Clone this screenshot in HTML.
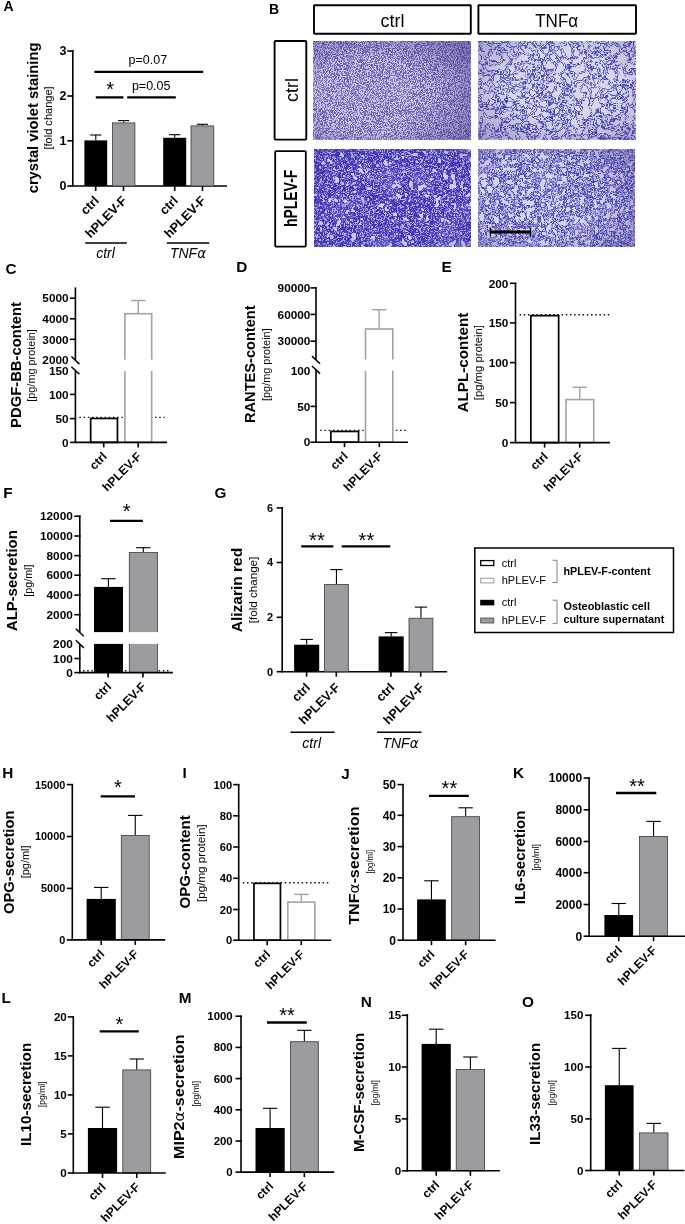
<!DOCTYPE html>
<html><head><meta charset="utf-8"><title>Figure</title>
<style>html,body{margin:0;padding:0;background:#fff}svg{display:block;will-change:transform}</style></head>
<body>
<svg width="685" height="1224" viewBox="0 0 685 1224" font-family='"Liberation Sans", Arial, sans-serif'>
<rect width="685" height="1224" fill="#fff"/>
<defs><filter id="fTL" x="0" y="0" width="100%" height="100%" color-interpolation-filters="sRGB">
 <feTurbulence type="fractalNoise" baseFrequency="1.15" numOctaves="1" seed="3"/>
 <feColorMatrix type="matrix" values="0 0 0 0 0 0 0 0 0 0 0 0 0 0 0 1 0 0 0 0"/>
 <feComponentTransfer result="a"><feFuncA type="table" tableValues="0 0 0 0 0 0 0 0 0 0 0 0 0 0 0 0 0 0 0 0.195 0.52 0.845 1 1 1 1 1 1 1 1 1 1 0.78 0.455 0.13 0 0 0 0 0 0"/></feComponentTransfer>
 <feTurbulence type="fractalNoise" baseFrequency="0.015" numOctaves="2" seed="14"/>
 <feColorMatrix type="matrix" values="0 0 0 0 0 0 0 0 0 0 0 0 0 0 0 0.8 0 0 0 0.6" result="lo"/>
 <feComposite in="a" in2="lo" operator="in" result="a"/>
 <feFlood flood-color="#6b60b4"/>
 <feComposite in2="a" operator="in" result="ink"/>
 <feFlood flood-color="#cac9e1" result="bg"/>
 <feMerge><feMergeNode in="bg"/><feMergeNode in="ink"/></feMerge>
 <feGaussianBlur stdDeviation="0.6"/>
</filter>
<filter id="fTR" x="0" y="0" width="100%" height="100%" color-interpolation-filters="sRGB">
 <feTurbulence type="fractalNoise" baseFrequency="0.11" numOctaves="3" seed="8"/>
 <feColorMatrix type="matrix" values="0 0 0 0 0 0 0 0 0 0 0 0 0 0 0 1 0 0 0 0"/>
 <feComponentTransfer result="a"><feFuncA type="table" tableValues="0 0 0 0 0 0 0 0 0 0 0 0 0 0 0 0 1 1 0.55 0 0 0 1 1 0.55 0 0 0 0 0 0 0 0 0 0 0 0 0 0 0 0"/></feComponentTransfer>
 <feTurbulence type="fractalNoise" baseFrequency="0.03" numOctaves="2" seed="5"/>
 <feColorMatrix type="matrix" values="0 0 0 0 0 0 0 0 0 0 0 0 0 0 0 0.6 0 0 0 0.7" result="lo"/>
 <feComposite in="a" in2="lo" operator="in" result="a"/>
 <feFlood flood-color="#4a44b0"/>
 <feComposite in2="a" operator="in" result="ink"/>
 <feFlood flood-color="#d6d8ea" result="bg"/>
 <feMerge><feMergeNode in="bg"/><feMergeNode in="ink"/></feMerge>
 <feGaussianBlur stdDeviation="0.4"/>
</filter>
<filter id="fBL" x="0" y="0" width="100%" height="100%" color-interpolation-filters="sRGB">
 <feTurbulence type="fractalNoise" baseFrequency="0.12" numOctaves="3" seed="21"/>
 <feColorMatrix type="matrix" values="0 0 0 0 0 0 0 0 0 0 0 0 0 0 0 1 0 0 0 0"/>
 <feComponentTransfer result="a"><feFuncA type="table" tableValues="0 0 0 0 0 0 0 0 0 0 0 0 0.2 1 1 1 1.0 0 0.433 1 1 1 0.433 0 1.0 1 1 1 0.2 0 0 0 0 0 0 0 0 0 0 0 0"/></feComponentTransfer>
 <feTurbulence type="fractalNoise" baseFrequency="0.03" numOctaves="2" seed="9"/>
 <feColorMatrix type="matrix" values="0 0 0 0 0 0 0 0 0 0 0 0 0 0 0 0.5 0 0 0 0.75" result="lo"/>
 <feComposite in="a" in2="lo" operator="in" result="a"/>
 <feFlood flood-color="#4535bb"/>
 <feComposite in2="a" operator="in" result="ink"/>
 <feFlood flood-color="#d0d1ee" result="bg"/>
 <feMerge><feMergeNode in="bg"/><feMergeNode in="ink"/></feMerge>
 <feGaussianBlur stdDeviation="0.4"/>
</filter>
<filter id="fBR" x="0" y="0" width="100%" height="100%" color-interpolation-filters="sRGB">
 <feTurbulence type="fractalNoise" baseFrequency="0.15" numOctaves="3" seed="33"/>
 <feColorMatrix type="matrix" values="0 0 0 0 0 0 0 0 0 0 0 0 0 0 0 1 0 0 0 0"/>
 <feComponentTransfer result="a"><feFuncA type="table" tableValues="0 0 0 0 0 0 0 0 0 0 0 0 0 0 0 1 1 1 0.0 0.333 1 0.333 0.0 1 1 1 0 0 0 0 0 0 0 0 0 0 0 0 0 0 0"/></feComponentTransfer>
 <feTurbulence type="fractalNoise" baseFrequency="0.03" numOctaves="2" seed="17"/>
 <feColorMatrix type="matrix" values="0 0 0 0 0 0 0 0 0 0 0 0 0 0 0 0.6 0 0 0 0.7" result="lo"/>
 <feComposite in="a" in2="lo" operator="in" result="a"/>
 <feFlood flood-color="#5249b8"/>
 <feComposite in2="a" operator="in" result="ink"/>
 <feFlood flood-color="#d3d5ea" result="bg"/>
 <feMerge><feMergeNode in="bg"/><feMergeNode in="ink"/></feMerge>
 <feGaussianBlur stdDeviation="0.4"/>
</filter>
<radialGradient id="vig0" cx="36%" cy="55%" r="80%">
 <stop offset="45%" stop-color="#3a2f86" stop-opacity="0"/>
 <stop offset="100%" stop-color="#3a2f86" stop-opacity="0.5"/>
</radialGradient><radialGradient id="vig1" cx="55%" cy="45%" r="80%">
 <stop offset="45%" stop-color="#3a2f86" stop-opacity="0"/>
 <stop offset="100%" stop-color="#3a2f86" stop-opacity="0.4"/>
</radialGradient><radialGradient id="vig2" cx="50%" cy="50%" r="85%">
 <stop offset="45%" stop-color="#3a2f86" stop-opacity="0"/>
 <stop offset="100%" stop-color="#3a2f86" stop-opacity="0.3"/>
</radialGradient><radialGradient id="vig3" cx="38%" cy="50%" r="85%">
 <stop offset="45%" stop-color="#3a2f86" stop-opacity="0"/>
 <stop offset="100%" stop-color="#3a2f86" stop-opacity="0.42"/>
</radialGradient></defs>
<text x="3.6" y="11.4" font-size="14" font-weight="bold" >A</text>
<text x="38.2" y="193.3" font-size="15" font-weight="bold" transform="rotate(-90 38.2 193.3)" textLength="150.7" lengthAdjust="spacingAndGlyphs" >crystal violet staining</text>
<text x="52.2" y="149.5" font-size="11" transform="rotate(-90 52.2 149.5)" textLength="63.1" lengthAdjust="spacingAndGlyphs" >[fold change]</text>
<line x1="72.8" y1="50.3" x2="72.8" y2="186" stroke="#000" stroke-width="1.6" />
<line x1="67.3" y1="51" x2="73.6" y2="51" stroke="#000" stroke-width="1.6" />
<text x="66.5" y="55.48" font-size="12.5" font-weight="bold" text-anchor="end" >3</text>
<line x1="67.3" y1="96" x2="73.6" y2="96" stroke="#000" stroke-width="1.6" />
<text x="66.5" y="100.47" font-size="12.5" font-weight="bold" text-anchor="end" >2</text>
<line x1="67.3" y1="140.8" x2="73.6" y2="140.8" stroke="#000" stroke-width="1.6" />
<text x="66.5" y="145.28" font-size="12.5" font-weight="bold" text-anchor="end" >1</text>
<line x1="67.3" y1="186" x2="73.6" y2="186" stroke="#000" stroke-width="1.6" />
<text x="66.5" y="190.47" font-size="12.5" font-weight="bold" text-anchor="end" >0</text>
<line x1="72" y1="186" x2="227" y2="186" stroke="#000" stroke-width="1.6" />
<line x1="95.7" y1="186" x2="95.7" y2="191" stroke="#000" stroke-width="1.6" />
<line x1="123.5" y1="186" x2="123.5" y2="191" stroke="#000" stroke-width="1.6" />
<line x1="174.7" y1="186" x2="174.7" y2="191" stroke="#000" stroke-width="1.6" />
<line x1="202.5" y1="186" x2="202.5" y2="191" stroke="#000" stroke-width="1.6" />
<rect x="84.4" y="140.4" width="22.8" height="45.6" fill="#000" stroke="none" stroke-width="1.3" />
<line x1="95.8" y1="140.4" x2="95.8" y2="135" stroke="#000" stroke-width="1.1" />
<line x1="90.2" y1="135" x2="101.4" y2="135" stroke="#000" stroke-width="1.1" />
<rect x="112.4" y="122.9" width="22.5" height="63.1" fill="#9c9ca0" stroke="#3a3a3a" stroke-width="0.8" />
<line x1="123.65" y1="122.5" x2="123.65" y2="120.6" stroke="#000" stroke-width="1.1" />
<line x1="118.05" y1="120.6" x2="129.25" y2="120.6" stroke="#000" stroke-width="1.1" />
<rect x="163.2" y="137.8" width="23" height="48.2" fill="#000" stroke="none" stroke-width="1.3" />
<line x1="174.7" y1="137.8" x2="174.7" y2="134.7" stroke="#000" stroke-width="1.1" />
<line x1="169.1" y1="134.7" x2="180.3" y2="134.7" stroke="#000" stroke-width="1.1" />
<rect x="191" y="125.9" width="22.8" height="60.1" fill="#9c9ca0" stroke="#3a3a3a" stroke-width="0.8" />
<line x1="202.4" y1="125.5" x2="202.4" y2="124.3" stroke="#000" stroke-width="1.1" />
<line x1="196.8" y1="124.3" x2="208" y2="124.3" stroke="#000" stroke-width="1.1" />
<line x1="94.4" y1="71.9" x2="203.2" y2="71.9" stroke="#000" stroke-width="2.3" />
<line x1="95.8" y1="97.4" x2="123.4" y2="97.4" stroke="#000" stroke-width="2.3" />
<line x1="127.2" y1="97.4" x2="175.8" y2="97.4" stroke="#000" stroke-width="2.3" />
<text x="147.9" y="64.3" font-size="12.5" text-anchor="middle" >p=0.07</text>
<text x="151.2" y="89.7" font-size="12.5" text-anchor="middle" >p=0.05</text>
<text x="110.1" y="95.5" font-size="20" text-anchor="middle" >*</text>
<text x="99.8" y="201.5" font-size="12.8" font-weight="bold" text-anchor="end" transform="rotate(-45 99.8 201.5)" >ctrl</text>
<text x="127.6" y="201.5" font-size="12.8" font-weight="bold" text-anchor="end" transform="rotate(-45 127.6 201.5)" >hPLEV-F</text>
<text x="178.8" y="201.5" font-size="12.8" font-weight="bold" text-anchor="end" transform="rotate(-45 178.8 201.5)" >ctrl</text>
<text x="206.6" y="201.5" font-size="12.8" font-weight="bold" text-anchor="end" transform="rotate(-45 206.6 201.5)" >hPLEV-F</text>
<line x1="85.2" y1="242.9" x2="126.8" y2="242.9" stroke="#000" stroke-width="1.5" />
<line x1="166.8" y1="242.9" x2="209.3" y2="242.9" stroke="#000" stroke-width="1.5" />
<text x="105.5" y="258.4" font-size="14" font-style="italic" text-anchor="middle" >ctrl</text>
<text x="188" y="258.4" font-size="14" font-style="italic" text-anchor="middle" >TNF<tspan font-family="DejaVu Sans, sans-serif" font-size="13.5">α</tspan></text>
<text x="269" y="13.6" font-size="14" font-weight="bold" >B</text>
<rect x="314" y="5.2" width="156.8" height="28.6" fill="#fff" stroke="#000" stroke-width="1.9" rx="0.5"/>
<rect x="478.4" y="5.2" width="157.6" height="28.6" fill="#fff" stroke="#000" stroke-width="1.9" rx="0.5"/>
<text x="380.5" y="27.3" font-size="19" textLength="24" lengthAdjust="spacingAndGlyphs" >ctrl</text>
<text x="535.2" y="27.3" font-size="18.5" textLength="43" lengthAdjust="spacingAndGlyphs" >TNFα</text>
<rect x="274.6" y="41" width="31.7" height="98.6" fill="#fff" stroke="#000" stroke-width="1.9" rx="1"/>
<rect x="275.2" y="151.1" width="30.6" height="95.5" fill="#fff" stroke="#000" stroke-width="1.8" rx="1"/>
<text x="298" y="90" font-size="18" text-anchor="middle" transform="rotate(-90 298 90)" >ctrl</text>
<text x="296.8" y="227" font-size="17.5" font-weight="bold" transform="rotate(-90 296.8 227)" textLength="57.3" lengthAdjust="spacingAndGlyphs" >hPLEV-F</text>
<rect x="313.8" y="41" width="157" height="98.6" fill="#888" stroke="none" stroke-width="0" filter="url(#fTL)"/>
<rect x="313.8" y="41" width="157" height="98.6" fill="url(#vig0)" stroke="none" stroke-width="0" />
<rect x="478.2" y="41" width="157.1" height="98.6" fill="#888" stroke="none" stroke-width="0" filter="url(#fTR)"/>
<rect x="478.2" y="41" width="157.1" height="98.6" fill="url(#vig1)" stroke="none" stroke-width="0" />
<rect x="314" y="149" width="156.5" height="98" fill="#888" stroke="none" stroke-width="0" filter="url(#fBL)"/>
<rect x="314" y="149" width="156.5" height="98" fill="url(#vig2)" stroke="none" stroke-width="0" />
<rect x="478" y="149" width="157" height="98" fill="#888" stroke="none" stroke-width="0" filter="url(#fBR)"/>
<rect x="478" y="149" width="157" height="98" fill="url(#vig3)" stroke="none" stroke-width="0" />
<line x1="490" y1="232" x2="531" y2="232" stroke="#000" stroke-width="3" />
<line x1="490.4" y1="227.5" x2="490.4" y2="236.7" stroke="#000" stroke-width="1.2" />
<line x1="530.6" y1="227.5" x2="530.6" y2="236.7" stroke="#000" stroke-width="1.2" />
<text x="5.4" y="273.9" font-size="15.3" font-weight="bold" >C</text>
<text x="20.9" y="427.9" font-size="15" font-weight="bold" transform="rotate(-90 20.9 427.9)" textLength="125.8" lengthAdjust="spacingAndGlyphs" >PDGF-BB-content</text>
<text x="34.8" y="401.8" font-size="11" transform="rotate(-90 34.8 401.8)" textLength="72.7" lengthAdjust="spacingAndGlyphs" >[pg/mg protein]</text>
<line x1="79.4" y1="417.4" x2="164.5" y2="417.4" stroke="#111" stroke-width="1.4" stroke-dasharray="1.5 2.7"/>
<rect x="90.65" y="418.45" width="26.8" height="23.95" fill="#fff" stroke="#000" stroke-width="1.7" />
<rect x="124.9" y="313.7" width="26.8" height="128.7" fill="#fff" stroke="#a2a2a5" stroke-width="1.6" />
<rect x="119.5" y="359.7" width="40.5" height="11.4" fill="#fff" stroke="none" stroke-width="1.3" />
<line x1="138.3" y1="313.6" x2="138.3" y2="300.5" stroke="#a2a2a5" stroke-width="1.4" />
<line x1="131.1" y1="300.5" x2="145.5" y2="300.5" stroke="#a2a2a5" stroke-width="1.4" />
<line x1="75.4" y1="287.4" x2="75.4" y2="360.2" stroke="#000" stroke-width="1.6" />
<line x1="69.9" y1="298.2" x2="76.2" y2="298.2" stroke="#000" stroke-width="1.6" />
<text x="68.6" y="302.42" font-size="11.8" font-weight="bold" text-anchor="end" >5000</text>
<line x1="69.9" y1="318.8" x2="76.2" y2="318.8" stroke="#000" stroke-width="1.6" />
<text x="68.6" y="323.02" font-size="11.8" font-weight="bold" text-anchor="end" >4000</text>
<line x1="69.9" y1="339.3" x2="76.2" y2="339.3" stroke="#000" stroke-width="1.6" />
<text x="68.6" y="343.52" font-size="11.8" font-weight="bold" text-anchor="end" >3000</text>
<text x="68.6" y="363.72" font-size="11.8" font-weight="bold" text-anchor="end" >2000</text>
<line x1="75.4" y1="370.8" x2="75.4" y2="442.4" stroke="#000" stroke-width="1.6" />
<text x="68.6" y="375.42" font-size="11.8" font-weight="bold" text-anchor="end" >150</text>
<line x1="69.9" y1="394.4" x2="76.2" y2="394.4" stroke="#000" stroke-width="1.6" />
<text x="68.6" y="398.62" font-size="11.8" font-weight="bold" text-anchor="end" >100</text>
<line x1="69.9" y1="418.6" x2="76.2" y2="418.6" stroke="#000" stroke-width="1.6" />
<text x="68.6" y="422.82" font-size="11.8" font-weight="bold" text-anchor="end" >50</text>
<line x1="69.9" y1="442.4" x2="76.2" y2="442.4" stroke="#000" stroke-width="1.6" />
<text x="68.6" y="446.62" font-size="11.8" font-weight="bold" text-anchor="end" >0</text>
<line x1="71.4" y1="356.5" x2="79.4" y2="364.1" stroke="#000" stroke-width="1.5" />
<line x1="71.4" y1="366.7" x2="79.4" y2="374.3" stroke="#000" stroke-width="1.5" />
<line x1="74.6" y1="442.4" x2="167.1" y2="442.4" stroke="#000" stroke-width="1.6" />
<line x1="103.7" y1="442.4" x2="103.7" y2="447.4" stroke="#000" stroke-width="1.6" />
<line x1="138.2" y1="442.4" x2="138.2" y2="447.4" stroke="#000" stroke-width="1.6" />
<text x="107.7" y="457.2" font-size="12" font-weight="bold" text-anchor="end" transform="rotate(-45 107.7 457.2)" >ctrl</text>
<text x="142.2" y="457.2" font-size="12" font-weight="bold" text-anchor="end" transform="rotate(-45 142.2 457.2)" >hPLEV-F</text>
<text x="236.2" y="271.6" font-size="15.3" font-weight="bold" >D</text>
<text x="255.3" y="423" font-size="15" font-weight="bold" transform="rotate(-90 255.3 423)" textLength="117.6" lengthAdjust="spacingAndGlyphs" >RANTES-content</text>
<text x="269.7" y="401" font-size="11" transform="rotate(-90 269.7 401)" textLength="72.7" lengthAdjust="spacingAndGlyphs" >[pg/mg protein]</text>
<line x1="320.2" y1="430.4" x2="405.7" y2="430.4" stroke="#111" stroke-width="1.4" stroke-dasharray="1.5 2.7"/>
<rect x="330.85" y="431.45" width="27.7" height="10.75" fill="#fff" stroke="#000" stroke-width="1.7" />
<rect x="365.5" y="329" width="27.3" height="113.2" fill="#fff" stroke="#a2a2a5" stroke-width="1.6" />
<rect x="360.5" y="359.5" width="39.5" height="11.1" fill="#fff" stroke="none" stroke-width="1.3" />
<line x1="379.1" y1="328.9" x2="379.1" y2="309.7" stroke="#a2a2a5" stroke-width="1.4" />
<line x1="371.9" y1="309.7" x2="386.3" y2="309.7" stroke="#a2a2a5" stroke-width="1.4" />
<line x1="316" y1="287.4" x2="316" y2="359.8" stroke="#000" stroke-width="1.6" />
<line x1="310.5" y1="287.9" x2="316.8" y2="287.9" stroke="#000" stroke-width="1.6" />
<text x="310.4" y="292.12" font-size="11.8" font-weight="bold" text-anchor="end" >90000</text>
<line x1="310.5" y1="314.4" x2="316.8" y2="314.4" stroke="#000" stroke-width="1.6" />
<text x="310.4" y="318.62" font-size="11.8" font-weight="bold" text-anchor="end" >60000</text>
<line x1="310.5" y1="341.2" x2="316.8" y2="341.2" stroke="#000" stroke-width="1.6" />
<text x="310.4" y="345.42" font-size="11.8" font-weight="bold" text-anchor="end" >30000</text>
<line x1="316" y1="369.8" x2="316" y2="442.2" stroke="#000" stroke-width="1.6" />
<text x="310.4" y="374.52" font-size="11.8" font-weight="bold" text-anchor="end" >100</text>
<line x1="310.5" y1="406.4" x2="316.8" y2="406.4" stroke="#000" stroke-width="1.6" />
<text x="310.4" y="410.62" font-size="11.8" font-weight="bold" text-anchor="end" >50</text>
<line x1="310.5" y1="442.2" x2="316.8" y2="442.2" stroke="#000" stroke-width="1.6" />
<text x="310.4" y="446.42" font-size="11.8" font-weight="bold" text-anchor="end" >0</text>
<line x1="312" y1="356.1" x2="320" y2="363.7" stroke="#000" stroke-width="1.5" />
<line x1="312" y1="366" x2="320" y2="373.6" stroke="#000" stroke-width="1.5" />
<line x1="315.2" y1="442.2" x2="408" y2="442.2" stroke="#000" stroke-width="1.6" />
<line x1="344.5" y1="442.2" x2="344.5" y2="447.2" stroke="#000" stroke-width="1.6" />
<line x1="379.3" y1="442.2" x2="379.3" y2="447.2" stroke="#000" stroke-width="1.6" />
<text x="348.5" y="457" font-size="12" font-weight="bold" text-anchor="end" transform="rotate(-45 348.5 457)" >ctrl</text>
<text x="383.3" y="457" font-size="12" font-weight="bold" text-anchor="end" transform="rotate(-45 383.3 457)" >hPLEV-F</text>
<text x="441.4" y="271.6" font-size="15.3" font-weight="bold" >E</text>
<text x="467.8" y="412.4" font-size="15" font-weight="bold" transform="rotate(-90 467.8 412.4)" textLength="99.7" lengthAdjust="spacingAndGlyphs" >ALPL-content</text>
<text x="482.2" y="400.2" font-size="11" transform="rotate(-90 482.2 400.2)" textLength="75.2" lengthAdjust="spacingAndGlyphs" >[pg/mg protein]</text>
<line x1="519.6" y1="314.8" x2="609.6" y2="314.8" stroke="#111" stroke-width="1.4" stroke-dasharray="1.5 2.7"/>
<rect x="530.85" y="315.65" width="27.8" height="126.95" fill="#fff" stroke="#000" stroke-width="1.7" />
<rect x="566" y="399.6" width="27.7" height="43" fill="#fff" stroke="#a2a2a5" stroke-width="1.6" />
<line x1="579.8" y1="399.5" x2="579.8" y2="387.3" stroke="#a2a2a5" stroke-width="1.4" />
<line x1="572.6" y1="387.3" x2="587" y2="387.3" stroke="#a2a2a5" stroke-width="1.4" />
<line x1="515.5" y1="282.8" x2="515.5" y2="442.6" stroke="#000" stroke-width="1.6" />
<line x1="510" y1="283.3" x2="516.3" y2="283.3" stroke="#000" stroke-width="1.6" />
<text x="508.4" y="287.52" font-size="11.8" font-weight="bold" text-anchor="end" >200</text>
<line x1="510" y1="322.9" x2="516.3" y2="322.9" stroke="#000" stroke-width="1.6" />
<text x="508.4" y="327.12" font-size="11.8" font-weight="bold" text-anchor="end" >150</text>
<line x1="510" y1="362.6" x2="516.3" y2="362.6" stroke="#000" stroke-width="1.6" />
<text x="508.4" y="366.82" font-size="11.8" font-weight="bold" text-anchor="end" >100</text>
<line x1="510" y1="402.6" x2="516.3" y2="402.6" stroke="#000" stroke-width="1.6" />
<text x="508.4" y="406.82" font-size="11.8" font-weight="bold" text-anchor="end" >50</text>
<line x1="510" y1="442.6" x2="516.3" y2="442.6" stroke="#000" stroke-width="1.6" />
<text x="508.4" y="446.82" font-size="11.8" font-weight="bold" text-anchor="end" >0</text>
<line x1="514.7" y1="442.6" x2="609.9" y2="442.6" stroke="#000" stroke-width="1.6" />
<line x1="544.6" y1="442.6" x2="544.6" y2="447.6" stroke="#000" stroke-width="1.6" />
<line x1="579.7" y1="442.6" x2="579.7" y2="447.6" stroke="#000" stroke-width="1.6" />
<text x="548.6" y="457.4" font-size="12" font-weight="bold" text-anchor="end" transform="rotate(-45 548.6 457.4)" >ctrl</text>
<text x="583.7" y="457.4" font-size="12" font-weight="bold" text-anchor="end" transform="rotate(-45 583.7 457.4)" >hPLEV-F</text>
<text x="3.2" y="498.3" font-size="15.3" font-weight="bold" >F</text>
<text x="16.8" y="631.1" font-size="15" font-weight="bold" transform="rotate(-90 16.8 631.1)" textLength="100.9" lengthAdjust="spacingAndGlyphs" >ALP-secretion</text>
<text x="32.4" y="596.7" font-size="11" transform="rotate(-90 32.4 596.7)" textLength="32.1" lengthAdjust="spacingAndGlyphs" >[pg/ml]</text>
<line x1="83" y1="670.7" x2="170.2" y2="670.7" stroke="#111" stroke-width="1.4" stroke-dasharray="1.5 2.7"/>
<rect x="94" y="586.9" width="29" height="85.7" fill="#000" stroke="none" stroke-width="1.3" />
<rect x="129.3" y="552.6" width="28.1" height="120" fill="#9c9ca0" stroke="#3a3a3a" stroke-width="0.8" />
<rect x="85" y="632.1" width="80" height="11.8" fill="#fff" stroke="none" stroke-width="1.3" />
<line x1="108.4" y1="587.1" x2="108.4" y2="578.7" stroke="#000" stroke-width="1.1" />
<line x1="101.2" y1="578.7" x2="115.6" y2="578.7" stroke="#000" stroke-width="1.1" />
<line x1="143.3" y1="552.2" x2="143.3" y2="547.7" stroke="#000" stroke-width="1.1" />
<line x1="136.1" y1="547.7" x2="150.5" y2="547.7" stroke="#000" stroke-width="1.1" />
<line x1="79.8" y1="515.6" x2="79.8" y2="632" stroke="#000" stroke-width="1.6" />
<line x1="74.3" y1="516.2" x2="80.6" y2="516.2" stroke="#000" stroke-width="1.6" />
<text x="72.8" y="520.42" font-size="11.8" font-weight="bold" text-anchor="end" >12000</text>
<line x1="74.3" y1="536" x2="80.6" y2="536" stroke="#000" stroke-width="1.6" />
<text x="72.8" y="540.22" font-size="11.8" font-weight="bold" text-anchor="end" >10000</text>
<line x1="74.3" y1="555.6" x2="80.6" y2="555.6" stroke="#000" stroke-width="1.6" />
<text x="72.8" y="559.82" font-size="11.8" font-weight="bold" text-anchor="end" >8000</text>
<line x1="74.3" y1="575.2" x2="80.6" y2="575.2" stroke="#000" stroke-width="1.6" />
<text x="72.8" y="579.42" font-size="11.8" font-weight="bold" text-anchor="end" >6000</text>
<line x1="74.3" y1="595.1" x2="80.6" y2="595.1" stroke="#000" stroke-width="1.6" />
<text x="72.8" y="599.32" font-size="11.8" font-weight="bold" text-anchor="end" >4000</text>
<line x1="74.3" y1="614.7" x2="80.6" y2="614.7" stroke="#000" stroke-width="1.6" />
<text x="72.8" y="618.92" font-size="11.8" font-weight="bold" text-anchor="end" >2000</text>
<line x1="79.8" y1="644.1" x2="79.8" y2="672.6" stroke="#000" stroke-width="1.6" />
<text x="72.8" y="648.32" font-size="11.8" font-weight="bold" text-anchor="end" >200</text>
<line x1="74.3" y1="658.5" x2="80.6" y2="658.5" stroke="#000" stroke-width="1.6" />
<text x="72.8" y="662.72" font-size="11.8" font-weight="bold" text-anchor="end" >100</text>
<line x1="74.3" y1="672.6" x2="80.6" y2="672.6" stroke="#000" stroke-width="1.6" />
<text x="72.8" y="676.82" font-size="11.8" font-weight="bold" text-anchor="end" >0</text>
<line x1="75.8" y1="628.7" x2="83.8" y2="636.3" stroke="#000" stroke-width="1.5" />
<line x1="75.8" y1="640.3" x2="83.8" y2="647.9" stroke="#000" stroke-width="1.5" />
<line x1="79" y1="672.6" x2="172.9" y2="672.6" stroke="#000" stroke-width="1.6" />
<line x1="108.1" y1="672.6" x2="108.1" y2="677.6" stroke="#000" stroke-width="1.6" />
<line x1="142.9" y1="672.6" x2="142.9" y2="677.6" stroke="#000" stroke-width="1.6" />
<text x="112.1" y="687.4" font-size="12.2" font-weight="bold" text-anchor="end" transform="rotate(-45 112.1 687.4)" >ctrl</text>
<text x="146.9" y="687.4" font-size="12.2" font-weight="bold" text-anchor="end" transform="rotate(-45 146.9 687.4)" >hPLEV-F</text>
<line x1="110" y1="520.8" x2="142.9" y2="520.8" stroke="#000" stroke-width="2.3" />
<text x="126.6" y="517.8" font-size="20" text-anchor="middle" >*</text>
<text x="214.4" y="498.4" font-size="15.3" font-weight="bold" >G</text>
<text x="242.3" y="632.2" font-size="15" font-weight="bold" transform="rotate(-90 242.3 632.2)" textLength="84.4" lengthAdjust="spacingAndGlyphs" >Alizarin red</text>
<text x="257.1" y="623.2" font-size="11" transform="rotate(-90 257.1 623.2)" textLength="66.5" lengthAdjust="spacingAndGlyphs" >[fold change]</text>
<line x1="282.2" y1="507.4" x2="282.2" y2="671.7" stroke="#000" stroke-width="1.6" />
<line x1="276.7" y1="507.9" x2="283" y2="507.9" stroke="#000" stroke-width="1.6" />
<text x="273.2" y="511.84" font-size="11" font-weight="bold" text-anchor="end" >6</text>
<line x1="276.7" y1="562.5" x2="283" y2="562.5" stroke="#000" stroke-width="1.6" />
<text x="273.2" y="566.44" font-size="11" font-weight="bold" text-anchor="end" >4</text>
<line x1="276.7" y1="617.3" x2="283" y2="617.3" stroke="#000" stroke-width="1.6" />
<text x="273.2" y="621.24" font-size="11" font-weight="bold" text-anchor="end" >2</text>
<line x1="276.7" y1="671.7" x2="283" y2="671.7" stroke="#000" stroke-width="1.6" />
<text x="273.2" y="675.64" font-size="11" font-weight="bold" text-anchor="end" >0</text>
<line x1="281.4" y1="671.7" x2="447.2" y2="671.7" stroke="#000" stroke-width="1.6" />
<line x1="306.6" y1="671.7" x2="306.6" y2="676.7" stroke="#000" stroke-width="1.6" />
<line x1="336.3" y1="671.7" x2="336.3" y2="676.7" stroke="#000" stroke-width="1.6" />
<line x1="390.9" y1="671.7" x2="390.9" y2="676.7" stroke="#000" stroke-width="1.6" />
<line x1="420.7" y1="671.7" x2="420.7" y2="676.7" stroke="#000" stroke-width="1.6" />
<rect x="294.1" y="644.7" width="25.1" height="27" fill="#000" stroke="none" stroke-width="1.3" />
<line x1="306.65" y1="644.7" x2="306.65" y2="639.4" stroke="#000" stroke-width="1.1" />
<line x1="300.45" y1="639.4" x2="312.85" y2="639.4" stroke="#000" stroke-width="1.1" />
<rect x="324.6" y="584.4" width="23.7" height="87.3" fill="#9c9ca0" stroke="#3a3a3a" stroke-width="0.8" />
<line x1="336.45" y1="584" x2="336.45" y2="569.6" stroke="#000" stroke-width="1.1" />
<line x1="330.25" y1="569.6" x2="342.65" y2="569.6" stroke="#000" stroke-width="1.1" />
<rect x="378.6" y="636.4" width="25.1" height="35.3" fill="#000" stroke="none" stroke-width="1.3" />
<line x1="391.15" y1="636.4" x2="391.15" y2="632.6" stroke="#000" stroke-width="1.1" />
<line x1="384.95" y1="632.6" x2="397.35" y2="632.6" stroke="#000" stroke-width="1.1" />
<rect x="409" y="618.2" width="23.9" height="53.5" fill="#9c9ca0" stroke="#3a3a3a" stroke-width="0.8" />
<line x1="420.95" y1="617.8" x2="420.95" y2="607.1" stroke="#000" stroke-width="1.1" />
<line x1="414.75" y1="607.1" x2="427.15" y2="607.1" stroke="#000" stroke-width="1.1" />
<line x1="301.2" y1="546.3" x2="333.3" y2="546.3" stroke="#000" stroke-width="2.3" />
<line x1="341.7" y1="546.3" x2="390.3" y2="546.3" stroke="#000" stroke-width="2.3" />
<text x="316.9" y="547.1" font-size="20" text-anchor="middle" >**</text>
<text x="366.4" y="547.1" font-size="20" text-anchor="middle" >**</text>
<text x="310.9" y="688.3" font-size="12.6" font-weight="bold" text-anchor="end" transform="rotate(-45 310.9 688.3)" >ctrl</text>
<text x="340.6" y="688.3" font-size="12.6" font-weight="bold" text-anchor="end" transform="rotate(-45 340.6 688.3)" >hPLEV-F</text>
<text x="395.2" y="688.3" font-size="12.6" font-weight="bold" text-anchor="end" transform="rotate(-45 395.2 688.3)" >ctrl</text>
<text x="425" y="688.3" font-size="12.6" font-weight="bold" text-anchor="end" transform="rotate(-45 425 688.3)" >hPLEV-F</text>
<line x1="290.5" y1="732.2" x2="334.5" y2="732.2" stroke="#000" stroke-width="1.5" />
<line x1="377" y1="732.2" x2="421.4" y2="732.2" stroke="#000" stroke-width="1.5" />
<text x="311.7" y="748" font-size="14" font-style="italic" text-anchor="middle" >ctrl</text>
<text x="400.5" y="748" font-size="14" font-style="italic" text-anchor="middle" >TNF<tspan font-family="DejaVu Sans, sans-serif" font-size="13.5">α</tspan></text>
<rect x="474.8" y="548" width="198.7" height="84.5" fill="#fff" stroke="#000" stroke-width="1.5" />
<rect x="480.7" y="560.6" width="13.1" height="4.9" fill="#fff" stroke="#000" stroke-width="1.3" />
<rect x="480.7" y="578.3" width="13.1" height="4.6" fill="#fff" stroke="#a2a2a5" stroke-width="1.1" />
<rect x="480.2" y="599.8" width="14.1" height="5.6" fill="#000" stroke="none" stroke-width="1.3" />
<rect x="480.7" y="618" width="13.1" height="5" fill="#9c9ca0" stroke="#444" stroke-width="0.8" />
<text x="501.7" y="566.8" font-size="11.1" >ctrl</text>
<text x="501.7" y="584.2" font-size="11.1" >hPLEV-F</text>
<text x="501.7" y="606.2" font-size="11.1" >ctrl</text>
<text x="501.7" y="623.6" font-size="11.1" >hPLEV-F</text>
<path d="M552.5 560.3H557V582.5H552.5" fill="none" stroke="#555" stroke-width="0.75"/>
<path d="M552.5 600.2H557V623.4H552.5" fill="none" stroke="#555" stroke-width="0.75"/>
<text x="563.5" y="575.3" font-size="10.8" font-weight="bold" textLength="87" lengthAdjust="spacingAndGlyphs" >hPLEV-F-content</text>
<text x="563.5" y="609.8" font-size="10.8" font-weight="bold" textLength="86.4" lengthAdjust="spacingAndGlyphs" >Osteoblastic cell</text>
<text x="563.5" y="622.6" font-size="10.8" font-weight="bold" textLength="100.8" lengthAdjust="spacingAndGlyphs" >culture supernatant</text>
<text x="2.3" y="777.5" font-size="15.3" font-weight="bold" >H</text>
<text x="14.3" y="914" font-size="15" font-weight="bold" transform="rotate(-90 14.3 914)" textLength="103.5" lengthAdjust="spacingAndGlyphs" >OPG-secretion</text>
<text x="29.4" y="878.3" font-size="10.5" transform="rotate(-90 29.4 878.3)" textLength="32.8" lengthAdjust="spacingAndGlyphs" >[pg/ml]</text>
<rect x="86.6" y="898.9" width="29.2" height="41" fill="#000" stroke="none" stroke-width="1.3" />
<line x1="101.2" y1="898.9" x2="101.2" y2="887.4" stroke="#000" stroke-width="1.1" />
<line x1="94" y1="887.4" x2="108.4" y2="887.4" stroke="#000" stroke-width="1.1" />
<rect x="121.3" y="835.4" width="27.9" height="104.5" fill="#9c9ca0" stroke="#3a3a3a" stroke-width="0.8" />
<line x1="135.25" y1="835" x2="135.25" y2="815.4" stroke="#000" stroke-width="1.1" />
<line x1="128.05" y1="815.4" x2="142.45" y2="815.4" stroke="#000" stroke-width="1.1" />
<line x1="72.3" y1="784.1" x2="72.3" y2="939.9" stroke="#000" stroke-width="1.6" />
<line x1="66.8" y1="784.6" x2="73.1" y2="784.6" stroke="#000" stroke-width="1.6" />
<text x="65.3" y="788.5" font-size="10.9" font-weight="bold" text-anchor="end" >15000</text>
<line x1="66.8" y1="836.5" x2="73.1" y2="836.5" stroke="#000" stroke-width="1.6" />
<text x="65.3" y="840.4" font-size="10.9" font-weight="bold" text-anchor="end" >10000</text>
<line x1="66.8" y1="888.4" x2="73.1" y2="888.4" stroke="#000" stroke-width="1.6" />
<text x="65.3" y="892.3" font-size="10.9" font-weight="bold" text-anchor="end" >5000</text>
<line x1="66.8" y1="939.9" x2="73.1" y2="939.9" stroke="#000" stroke-width="1.6" />
<text x="65.3" y="943.8" font-size="10.9" font-weight="bold" text-anchor="end" >0</text>
<line x1="71.5" y1="939.9" x2="165.2" y2="939.9" stroke="#000" stroke-width="1.6" />
<line x1="101.2" y1="939.9" x2="101.2" y2="944.9" stroke="#000" stroke-width="1.6" />
<line x1="135.25" y1="939.9" x2="135.25" y2="944.9" stroke="#000" stroke-width="1.6" />
<text x="105.2" y="954.7" font-size="12" font-weight="bold" text-anchor="end" transform="rotate(-45 105.2 954.7)" >ctrl</text>
<text x="139.25" y="954.7" font-size="12" font-weight="bold" text-anchor="end" transform="rotate(-45 139.25 954.7)" >hPLEV-F</text>
<line x1="100.7" y1="796.4" x2="135" y2="796.4" stroke="#000" stroke-width="2.3" />
<text x="117.9" y="794.3" font-size="20" text-anchor="middle" >*</text>
<text x="182.6" y="777.5" font-size="15.3" font-weight="bold" >I</text>
<text x="190.4" y="908.5" font-size="15" font-weight="bold" transform="rotate(-90 190.4 908.5)" textLength="93.2" lengthAdjust="spacingAndGlyphs" >OPG-content</text>
<text x="205.3" y="902" font-size="10.5" transform="rotate(-90 205.3 902)" textLength="77.6" lengthAdjust="spacingAndGlyphs" >[pg/mg protein]</text>
<line x1="242.8" y1="882.8" x2="328.4" y2="882.8" stroke="#111" stroke-width="1.4" stroke-dasharray="1.5 2.7"/>
<rect x="253.95" y="883.35" width="26.5" height="56.85" fill="#fff" stroke="#000" stroke-width="1.7" />
<rect x="287.8" y="902.1" width="27" height="38.1" fill="#fff" stroke="#a2a2a5" stroke-width="1.6" />
<line x1="301.3" y1="901.3" x2="301.3" y2="894.4" stroke="#a2a2a5" stroke-width="1.4" />
<line x1="294.1" y1="894.4" x2="308.5" y2="894.4" stroke="#a2a2a5" stroke-width="1.4" />
<line x1="238.7" y1="784.1" x2="238.7" y2="940.2" stroke="#000" stroke-width="1.6" />
<line x1="233.2" y1="784.6" x2="239.5" y2="784.6" stroke="#000" stroke-width="1.6" />
<text x="232.2" y="788.61" font-size="11.2" font-weight="bold" text-anchor="end" >100</text>
<line x1="233.2" y1="815.8" x2="239.5" y2="815.8" stroke="#000" stroke-width="1.6" />
<text x="232.2" y="819.81" font-size="11.2" font-weight="bold" text-anchor="end" >80</text>
<line x1="233.2" y1="847" x2="239.5" y2="847" stroke="#000" stroke-width="1.6" />
<text x="232.2" y="851.01" font-size="11.2" font-weight="bold" text-anchor="end" >60</text>
<line x1="233.2" y1="878.3" x2="239.5" y2="878.3" stroke="#000" stroke-width="1.6" />
<text x="232.2" y="882.31" font-size="11.2" font-weight="bold" text-anchor="end" >40</text>
<line x1="233.2" y1="909.5" x2="239.5" y2="909.5" stroke="#000" stroke-width="1.6" />
<text x="232.2" y="913.51" font-size="11.2" font-weight="bold" text-anchor="end" >20</text>
<line x1="233.2" y1="940.2" x2="239.5" y2="940.2" stroke="#000" stroke-width="1.6" />
<text x="232.2" y="944.21" font-size="11.2" font-weight="bold" text-anchor="end" >0</text>
<line x1="237.9" y1="940.2" x2="331.2" y2="940.2" stroke="#000" stroke-width="1.6" />
<line x1="267.2" y1="940.2" x2="267.2" y2="945.2" stroke="#000" stroke-width="1.6" />
<line x1="301.3" y1="940.2" x2="301.3" y2="945.2" stroke="#000" stroke-width="1.6" />
<text x="271.2" y="955" font-size="12" font-weight="bold" text-anchor="end" transform="rotate(-45 271.2 955)" >ctrl</text>
<text x="305.3" y="955" font-size="12" font-weight="bold" text-anchor="end" transform="rotate(-45 305.3 955)" >hPLEV-F</text>
<text x="341.2" y="779.3" font-size="15.3" font-weight="bold" >J</text>
<text x="359" y="924.8" font-size="15" font-weight="bold" transform="rotate(-90 359 924.8)" textLength="118.3" lengthAdjust="spacingAndGlyphs" >TNF<tspan font-family="DejaVu Sans, sans-serif" font-weight="normal" font-size="14">α</tspan>-secretion</text>
<text x="373.4" y="873.5" font-size="8.5" transform="rotate(-90 373.4 873.5)" textLength="23.6" lengthAdjust="spacingAndGlyphs" >[pg/ml]</text>
<rect x="417.1" y="899.4" width="28.7" height="40.8" fill="#000" stroke="none" stroke-width="1.3" />
<line x1="431.45" y1="899.4" x2="431.45" y2="880.8" stroke="#000" stroke-width="1.1" />
<line x1="424.25" y1="880.8" x2="438.65" y2="880.8" stroke="#000" stroke-width="1.1" />
<rect x="451.7" y="816.7" width="27.9" height="123.5" fill="#9c9ca0" stroke="#3a3a3a" stroke-width="0.8" />
<line x1="465.65" y1="816.3" x2="465.65" y2="807.8" stroke="#000" stroke-width="1.1" />
<line x1="458.45" y1="807.8" x2="472.85" y2="807.8" stroke="#000" stroke-width="1.1" />
<line x1="403" y1="784.1" x2="403" y2="940.2" stroke="#000" stroke-width="1.6" />
<line x1="397.5" y1="784.6" x2="403.8" y2="784.6" stroke="#000" stroke-width="1.6" />
<text x="396" y="788.9" font-size="12" font-weight="bold" text-anchor="end" >50</text>
<line x1="397.5" y1="815.3" x2="403.8" y2="815.3" stroke="#000" stroke-width="1.6" />
<text x="396" y="819.6" font-size="12" font-weight="bold" text-anchor="end" >40</text>
<line x1="397.5" y1="846.6" x2="403.8" y2="846.6" stroke="#000" stroke-width="1.6" />
<text x="396" y="850.9" font-size="12" font-weight="bold" text-anchor="end" >30</text>
<line x1="397.5" y1="877.8" x2="403.8" y2="877.8" stroke="#000" stroke-width="1.6" />
<text x="396" y="882.1" font-size="12" font-weight="bold" text-anchor="end" >20</text>
<line x1="397.5" y1="909" x2="403.8" y2="909" stroke="#000" stroke-width="1.6" />
<text x="396" y="913.3" font-size="12" font-weight="bold" text-anchor="end" >10</text>
<line x1="397.5" y1="940.2" x2="403.8" y2="940.2" stroke="#000" stroke-width="1.6" />
<text x="396" y="944.5" font-size="12" font-weight="bold" text-anchor="end" >0</text>
<line x1="402.2" y1="940.2" x2="495.6" y2="940.2" stroke="#000" stroke-width="1.6" />
<line x1="431.45" y1="940.2" x2="431.45" y2="945.2" stroke="#000" stroke-width="1.6" />
<line x1="465.65" y1="940.2" x2="465.65" y2="945.2" stroke="#000" stroke-width="1.6" />
<text x="435.45" y="955" font-size="12" font-weight="bold" text-anchor="end" transform="rotate(-45 435.45 955)" >ctrl</text>
<text x="469.65" y="955" font-size="12" font-weight="bold" text-anchor="end" transform="rotate(-45 469.65 955)" >hPLEV-F</text>
<line x1="429" y1="795.9" x2="468.8" y2="795.9" stroke="#000" stroke-width="2.3" />
<text x="449.4" y="795.3" font-size="20" text-anchor="middle" >**</text>
<text x="513" y="777.5" font-size="15.3" font-weight="bold" >K</text>
<text x="524.9" y="904.3" font-size="15" font-weight="bold" transform="rotate(-90 524.9 904.3)" textLength="93.8" lengthAdjust="spacingAndGlyphs" >IL6-secretion</text>
<text x="539.2" y="870.7" font-size="9" transform="rotate(-90 539.2 870.7)" textLength="26.7" lengthAdjust="spacingAndGlyphs" >[pg/ml]</text>
<rect x="604.4" y="915" width="28.7" height="21.2" fill="#000" stroke="none" stroke-width="1.3" />
<line x1="618.75" y1="915" x2="618.75" y2="903.5" stroke="#000" stroke-width="1.1" />
<line x1="611.55" y1="903.5" x2="625.95" y2="903.5" stroke="#000" stroke-width="1.1" />
<rect x="639.6" y="836.4" width="27.9" height="99.8" fill="#9c9ca0" stroke="#3a3a3a" stroke-width="0.8" />
<line x1="653.55" y1="836" x2="653.55" y2="821.4" stroke="#000" stroke-width="1.1" />
<line x1="646.35" y1="821.4" x2="660.75" y2="821.4" stroke="#000" stroke-width="1.1" />
<line x1="589.1" y1="777.6" x2="589.1" y2="936.2" stroke="#000" stroke-width="1.6" />
<line x1="583.6" y1="778" x2="589.9" y2="778" stroke="#000" stroke-width="1.6" />
<text x="582.1" y="782.3" font-size="12" font-weight="bold" text-anchor="end" >10000</text>
<line x1="583.6" y1="809.8" x2="589.9" y2="809.8" stroke="#000" stroke-width="1.6" />
<text x="582.1" y="814.1" font-size="12" font-weight="bold" text-anchor="end" >8000</text>
<line x1="583.6" y1="841.5" x2="589.9" y2="841.5" stroke="#000" stroke-width="1.6" />
<text x="582.1" y="845.8" font-size="12" font-weight="bold" text-anchor="end" >6000</text>
<line x1="583.6" y1="872.7" x2="589.9" y2="872.7" stroke="#000" stroke-width="1.6" />
<text x="582.1" y="877" font-size="12" font-weight="bold" text-anchor="end" >4000</text>
<line x1="583.6" y1="904.5" x2="589.9" y2="904.5" stroke="#000" stroke-width="1.6" />
<text x="582.1" y="908.8" font-size="12" font-weight="bold" text-anchor="end" >2000</text>
<line x1="583.6" y1="936.2" x2="589.9" y2="936.2" stroke="#000" stroke-width="1.6" />
<text x="582.1" y="940.5" font-size="12" font-weight="bold" text-anchor="end" >0</text>
<line x1="588.3" y1="936.2" x2="686" y2="936.2" stroke="#000" stroke-width="1.6" />
<line x1="618.75" y1="936.2" x2="618.75" y2="941.2" stroke="#000" stroke-width="1.6" />
<line x1="653.55" y1="936.2" x2="653.55" y2="941.2" stroke="#000" stroke-width="1.6" />
<text x="622.75" y="951" font-size="12" font-weight="bold" text-anchor="end" transform="rotate(-45 622.75 951)" >ctrl</text>
<text x="657.55" y="951" font-size="12" font-weight="bold" text-anchor="end" transform="rotate(-45 657.55 951)" >hPLEV-F</text>
<line x1="616" y1="793" x2="656.3" y2="793" stroke="#000" stroke-width="2.3" />
<text x="637" y="792.5" font-size="20" text-anchor="middle" >**</text>
<text x="1.5" y="1003.4" font-size="15.3" font-weight="bold" >L</text>
<text x="31.4" y="1146" font-size="15" font-weight="bold" transform="rotate(-90 31.4 1146)" textLength="103.2" lengthAdjust="spacingAndGlyphs" >IL10-secretion</text>
<text x="45.1" y="1107" font-size="8.8" transform="rotate(-90 45.1 1107)" textLength="25.5" lengthAdjust="spacingAndGlyphs" >[pg/ml]</text>
<rect x="87.9" y="1128" width="29.2" height="45" fill="#000" stroke="none" stroke-width="1.3" />
<line x1="102.5" y1="1128" x2="102.5" y2="1107.2" stroke="#000" stroke-width="1.1" />
<line x1="95.3" y1="1107.2" x2="109.7" y2="1107.2" stroke="#000" stroke-width="1.1" />
<rect x="122.8" y="1069.9" width="27.9" height="103.1" fill="#9c9ca0" stroke="#3a3a3a" stroke-width="0.8" />
<line x1="136.75" y1="1069.5" x2="136.75" y2="1059" stroke="#000" stroke-width="1.1" />
<line x1="129.55" y1="1059" x2="143.95" y2="1059" stroke="#000" stroke-width="1.1" />
<line x1="73.3" y1="1016.2" x2="73.3" y2="1173" stroke="#000" stroke-width="1.6" />
<line x1="67.8" y1="1016.9" x2="74.1" y2="1016.9" stroke="#000" stroke-width="1.6" />
<text x="66.8" y="1021.05" font-size="11.6" font-weight="bold" text-anchor="end" >20</text>
<line x1="67.8" y1="1055.9" x2="74.1" y2="1055.9" stroke="#000" stroke-width="1.6" />
<text x="66.8" y="1060.05" font-size="11.6" font-weight="bold" text-anchor="end" >15</text>
<line x1="67.8" y1="1094.9" x2="74.1" y2="1094.9" stroke="#000" stroke-width="1.6" />
<text x="66.8" y="1099.05" font-size="11.6" font-weight="bold" text-anchor="end" >10</text>
<line x1="67.8" y1="1133.9" x2="74.1" y2="1133.9" stroke="#000" stroke-width="1.6" />
<text x="66.8" y="1138.05" font-size="11.6" font-weight="bold" text-anchor="end" >5</text>
<line x1="67.8" y1="1173" x2="74.1" y2="1173" stroke="#000" stroke-width="1.6" />
<text x="66.8" y="1177.15" font-size="11.6" font-weight="bold" text-anchor="end" >0</text>
<line x1="72.5" y1="1173" x2="165.8" y2="1173" stroke="#000" stroke-width="1.6" />
<line x1="102.5" y1="1173" x2="102.5" y2="1178" stroke="#000" stroke-width="1.6" />
<line x1="136.75" y1="1173" x2="136.75" y2="1178" stroke="#000" stroke-width="1.6" />
<text x="106.5" y="1187.8" font-size="12" font-weight="bold" text-anchor="end" transform="rotate(-45 106.5 1187.8)" >ctrl</text>
<text x="140.75" y="1187.8" font-size="12" font-weight="bold" text-anchor="end" transform="rotate(-45 140.75 1187.8)" >hPLEV-F</text>
<line x1="99.7" y1="1031.3" x2="138.8" y2="1031.3" stroke="#000" stroke-width="2.3" />
<text x="119.5" y="1030.5" font-size="20" text-anchor="middle" >*</text>
<text x="178.7" y="1003.4" font-size="15.3" font-weight="bold" >M</text>
<text x="183.7" y="1159" font-size="15" font-weight="bold" transform="rotate(-90 183.7 1159)" textLength="124.5" lengthAdjust="spacingAndGlyphs" >MIP2<tspan font-family="DejaVu Sans, sans-serif" font-weight="normal" font-size="14">α</tspan>-secretion</text>
<text x="199.3" y="1106.5" font-size="8.8" transform="rotate(-90 199.3 1106.5)" textLength="25.5" lengthAdjust="spacingAndGlyphs" >[pg/ml]</text>
<rect x="255.5" y="1128" width="29.2" height="44.1" fill="#000" stroke="none" stroke-width="1.3" />
<line x1="270.1" y1="1128" x2="270.1" y2="1108.3" stroke="#000" stroke-width="1.1" />
<line x1="262.9" y1="1108.3" x2="277.3" y2="1108.3" stroke="#000" stroke-width="1.1" />
<rect x="290.4" y="1041.7" width="27.9" height="130.4" fill="#9c9ca0" stroke="#3a3a3a" stroke-width="0.8" />
<line x1="304.35" y1="1041.3" x2="304.35" y2="1030.3" stroke="#000" stroke-width="1.1" />
<line x1="297.15" y1="1030.3" x2="311.55" y2="1030.3" stroke="#000" stroke-width="1.1" />
<line x1="241" y1="1015.6" x2="241" y2="1172.1" stroke="#000" stroke-width="1.6" />
<line x1="235.5" y1="1016.2" x2="241.8" y2="1016.2" stroke="#000" stroke-width="1.6" />
<text x="232.7" y="1020.28" font-size="11.4" font-weight="bold" text-anchor="end" >1000</text>
<line x1="235.5" y1="1047.4" x2="241.8" y2="1047.4" stroke="#000" stroke-width="1.6" />
<text x="232.7" y="1051.48" font-size="11.4" font-weight="bold" text-anchor="end" >800</text>
<line x1="235.5" y1="1078.6" x2="241.8" y2="1078.6" stroke="#000" stroke-width="1.6" />
<text x="232.7" y="1082.68" font-size="11.4" font-weight="bold" text-anchor="end" >600</text>
<line x1="235.5" y1="1109.8" x2="241.8" y2="1109.8" stroke="#000" stroke-width="1.6" />
<text x="232.7" y="1113.88" font-size="11.4" font-weight="bold" text-anchor="end" >400</text>
<line x1="235.5" y1="1141" x2="241.8" y2="1141" stroke="#000" stroke-width="1.6" />
<text x="232.7" y="1145.08" font-size="11.4" font-weight="bold" text-anchor="end" >200</text>
<line x1="235.5" y1="1172.1" x2="241.8" y2="1172.1" stroke="#000" stroke-width="1.6" />
<text x="232.7" y="1176.18" font-size="11.4" font-weight="bold" text-anchor="end" >0</text>
<line x1="240.2" y1="1172.1" x2="334.2" y2="1172.1" stroke="#000" stroke-width="1.6" />
<line x1="270.1" y1="1172.1" x2="270.1" y2="1177.1" stroke="#000" stroke-width="1.6" />
<line x1="304.35" y1="1172.1" x2="304.35" y2="1177.1" stroke="#000" stroke-width="1.6" />
<text x="274.1" y="1186.9" font-size="12" font-weight="bold" text-anchor="end" transform="rotate(-45 274.1 1186.9)" >ctrl</text>
<text x="308.35" y="1186.9" font-size="12" font-weight="bold" text-anchor="end" transform="rotate(-45 308.35 1186.9)" >hPLEV-F</text>
<line x1="267" y1="1022.5" x2="306.8" y2="1022.5" stroke="#000" stroke-width="2.3" />
<text x="287" y="1021.5" font-size="20" text-anchor="middle" >**</text>
<text x="360.7" y="1006.9" font-size="15.3" font-weight="bold" >N</text>
<text x="363.8" y="1152.1" font-size="15" font-weight="bold" transform="rotate(-90 363.8 1152.1)" textLength="119.3" lengthAdjust="spacingAndGlyphs" >M-CSF-secretion</text>
<text x="378.5" y="1105.2" font-size="8.8" transform="rotate(-90 378.5 1105.2)" textLength="25" lengthAdjust="spacingAndGlyphs" >[pg/ml]</text>
<rect x="421.6" y="1043.9" width="29.2" height="126.9" fill="#000" stroke="none" stroke-width="1.3" />
<line x1="436.2" y1="1043.9" x2="436.2" y2="1029.2" stroke="#000" stroke-width="1.1" />
<line x1="429" y1="1029.2" x2="443.4" y2="1029.2" stroke="#000" stroke-width="1.1" />
<rect x="456.2" y="1069.4" width="28.4" height="101.4" fill="#9c9ca0" stroke="#3a3a3a" stroke-width="0.8" />
<line x1="470.4" y1="1069" x2="470.4" y2="1057" stroke="#000" stroke-width="1.1" />
<line x1="463.2" y1="1057" x2="477.6" y2="1057" stroke="#000" stroke-width="1.1" />
<line x1="407.3" y1="1014.1" x2="407.3" y2="1170.8" stroke="#000" stroke-width="1.6" />
<line x1="401.8" y1="1015.3" x2="408.1" y2="1015.3" stroke="#000" stroke-width="1.6" />
<text x="401.1" y="1019.45" font-size="11.6" font-weight="bold" text-anchor="end" >15</text>
<line x1="401.8" y1="1067" x2="408.1" y2="1067" stroke="#000" stroke-width="1.6" />
<text x="401.1" y="1071.15" font-size="11.6" font-weight="bold" text-anchor="end" >10</text>
<line x1="401.8" y1="1118.9" x2="408.1" y2="1118.9" stroke="#000" stroke-width="1.6" />
<text x="401.1" y="1123.05" font-size="11.6" font-weight="bold" text-anchor="end" >5</text>
<line x1="401.8" y1="1170.8" x2="408.1" y2="1170.8" stroke="#000" stroke-width="1.6" />
<text x="401.1" y="1174.95" font-size="11.6" font-weight="bold" text-anchor="end" >0</text>
<line x1="406.5" y1="1170.8" x2="499.9" y2="1170.8" stroke="#000" stroke-width="1.6" />
<line x1="436.2" y1="1170.8" x2="436.2" y2="1175.8" stroke="#000" stroke-width="1.6" />
<line x1="470.4" y1="1170.8" x2="470.4" y2="1175.8" stroke="#000" stroke-width="1.6" />
<text x="440.2" y="1185.6" font-size="12" font-weight="bold" text-anchor="end" transform="rotate(-45 440.2 1185.6)" >ctrl</text>
<text x="474.4" y="1185.6" font-size="12" font-weight="bold" text-anchor="end" transform="rotate(-45 474.4 1185.6)" >hPLEV-F</text>
<text x="521.9" y="1006.9" font-size="15.3" font-weight="bold" >O</text>
<text x="540.3" y="1145" font-size="15" font-weight="bold" transform="rotate(-90 540.3 1145)" textLength="102.2" lengthAdjust="spacingAndGlyphs" >IL33-secretion</text>
<text x="554.8" y="1105.2" font-size="8.8" transform="rotate(-90 554.8 1105.2)" textLength="25" lengthAdjust="spacingAndGlyphs" >[pg/ml]</text>
<rect x="604.9" y="1085.2" width="28.7" height="85.3" fill="#000" stroke="none" stroke-width="1.3" />
<line x1="619.25" y1="1085.2" x2="619.25" y2="1048.4" stroke="#000" stroke-width="1.1" />
<line x1="612.05" y1="1048.4" x2="626.45" y2="1048.4" stroke="#000" stroke-width="1.1" />
<rect x="639.6" y="1132.9" width="28.4" height="37.6" fill="#9c9ca0" stroke="#3a3a3a" stroke-width="0.8" />
<line x1="653.8" y1="1132.5" x2="653.8" y2="1123.4" stroke="#000" stroke-width="1.1" />
<line x1="646.6" y1="1123.4" x2="661" y2="1123.4" stroke="#000" stroke-width="1.1" />
<line x1="590.7" y1="1014.1" x2="590.7" y2="1170.5" stroke="#000" stroke-width="1.6" />
<line x1="585.2" y1="1015.3" x2="591.5" y2="1015.3" stroke="#000" stroke-width="1.6" />
<text x="583.4" y="1019.45" font-size="11.6" font-weight="bold" text-anchor="end" >150</text>
<line x1="585.2" y1="1067" x2="591.5" y2="1067" stroke="#000" stroke-width="1.6" />
<text x="583.4" y="1071.15" font-size="11.6" font-weight="bold" text-anchor="end" >100</text>
<line x1="585.2" y1="1118.9" x2="591.5" y2="1118.9" stroke="#000" stroke-width="1.6" />
<text x="583.4" y="1123.05" font-size="11.6" font-weight="bold" text-anchor="end" >50</text>
<line x1="585.2" y1="1170.5" x2="591.5" y2="1170.5" stroke="#000" stroke-width="1.6" />
<text x="583.4" y="1174.65" font-size="11.6" font-weight="bold" text-anchor="end" >0</text>
<line x1="589.9" y1="1170.5" x2="684.4" y2="1170.5" stroke="#000" stroke-width="1.6" />
<line x1="619.25" y1="1170.5" x2="619.25" y2="1175.5" stroke="#000" stroke-width="1.6" />
<line x1="653.8" y1="1170.5" x2="653.8" y2="1175.5" stroke="#000" stroke-width="1.6" />
<text x="623.25" y="1185.3" font-size="12" font-weight="bold" text-anchor="end" transform="rotate(-45 623.25 1185.3)" >ctrl</text>
<text x="657.8" y="1185.3" font-size="12" font-weight="bold" text-anchor="end" transform="rotate(-45 657.8 1185.3)" >hPLEV-F</text>
</svg>
</body></html>
